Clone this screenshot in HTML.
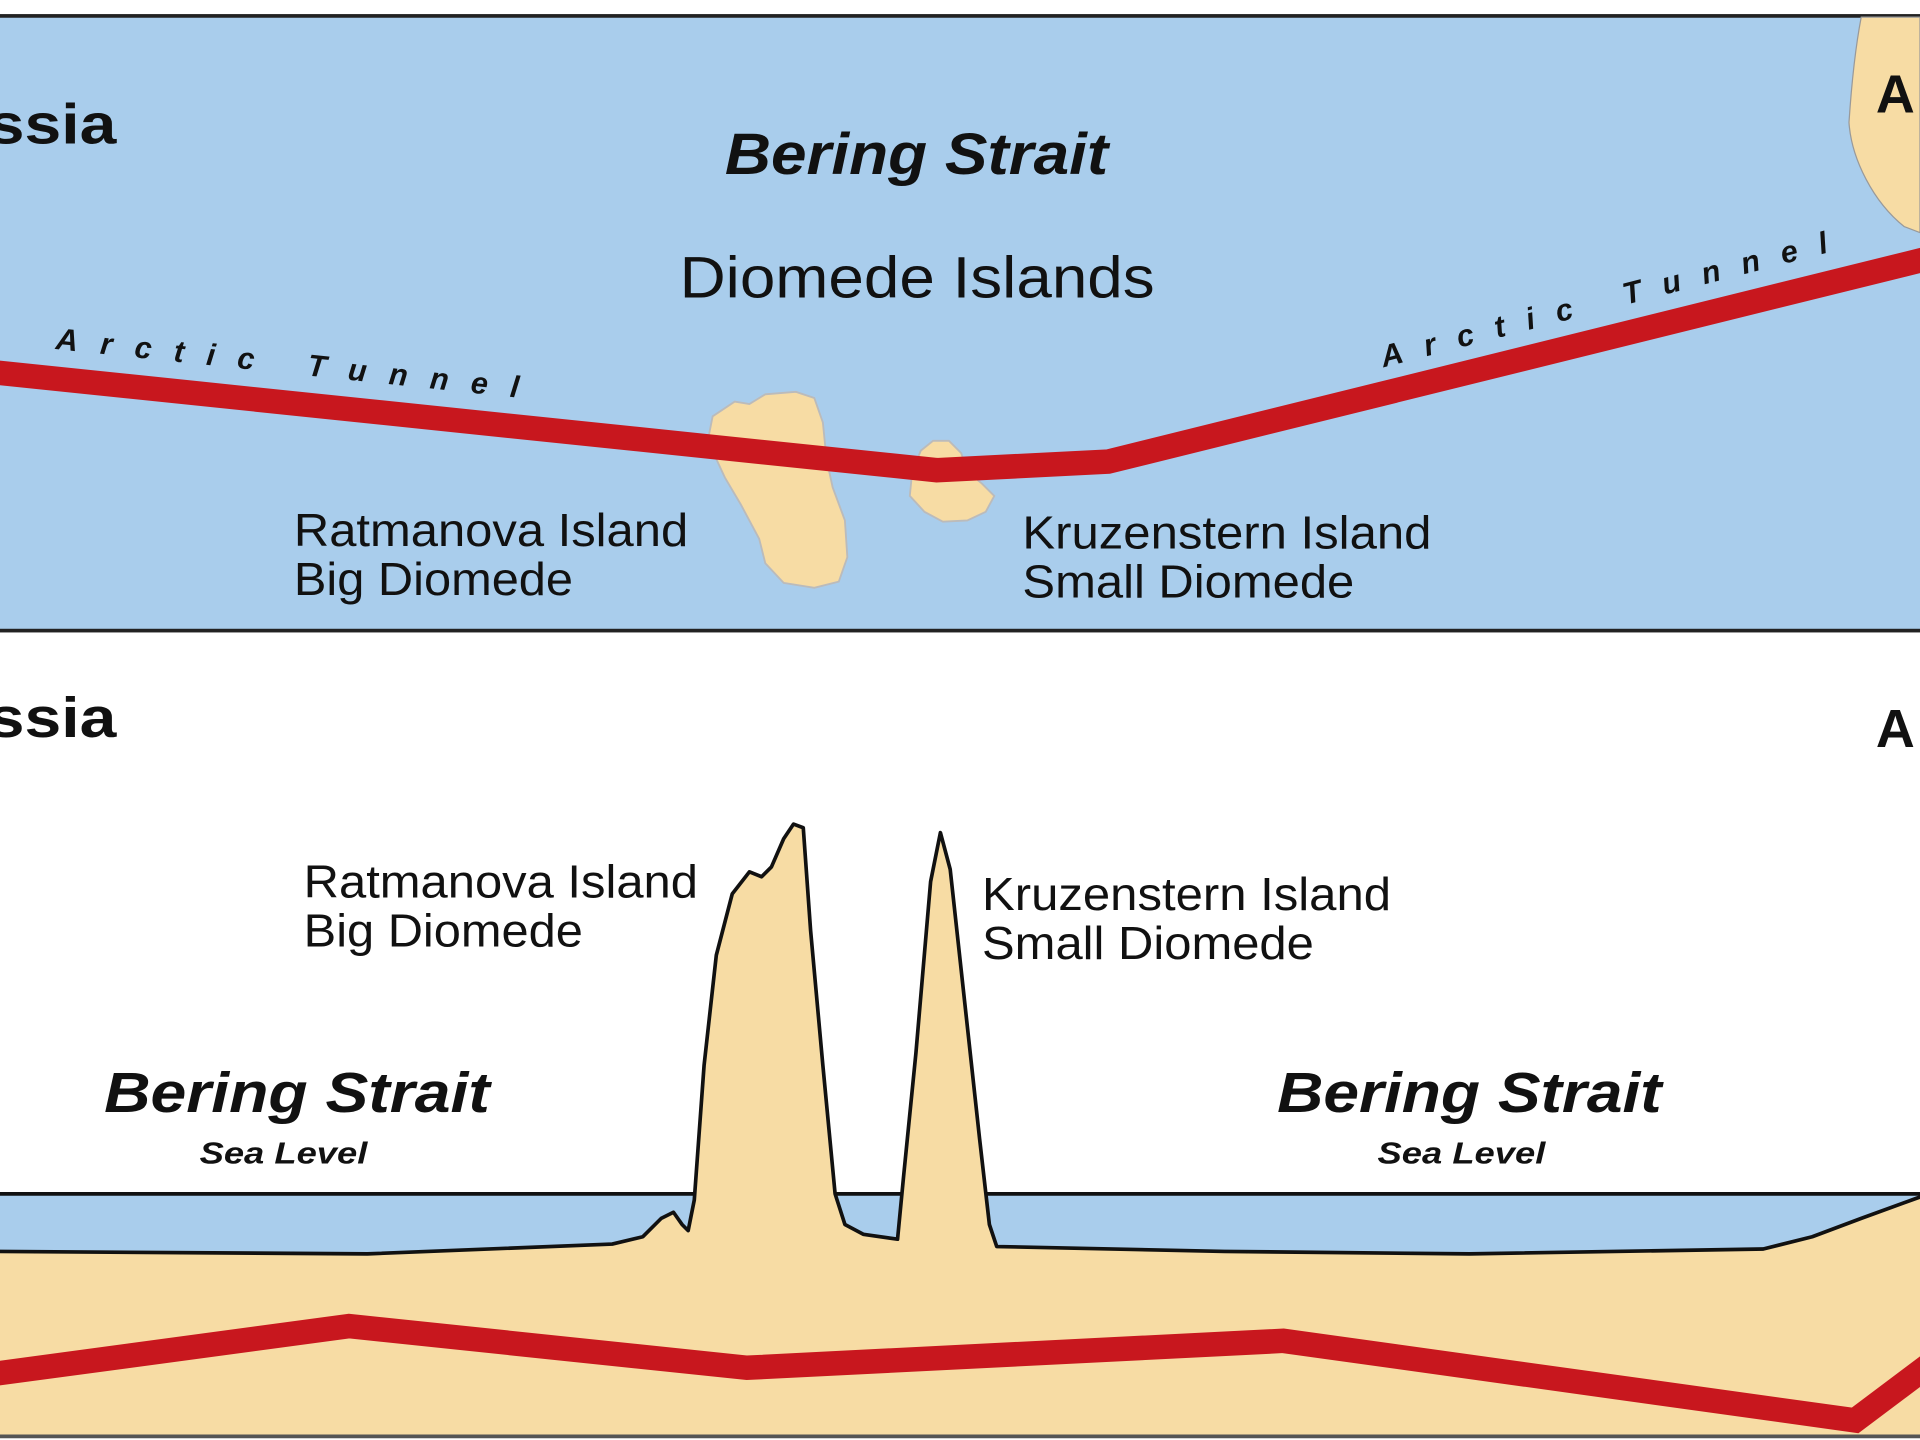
<!DOCTYPE html>
<html><head><meta charset="utf-8"><style>html,body{margin:0;padding:0;background:#fff}svg{display:block}</style></head>
<body>
<svg width="1920" height="1440" viewBox="0 0 1568 1176" preserveAspectRatio="none" xmlns="http://www.w3.org/2000/svg" font-family="Liberation Sans, sans-serif">
<rect x="0" y="0" width="1568" height="1176" fill="#fff"/>
<!-- top panel -->
<rect x="-5" y="13" width="1580" height="502" fill="#a9cdec" stroke="#222" stroke-width="3"/>
<path d="M1520,14 C1515,40 1512,70 1510,100 C1512,130 1530,165 1555,185 L1568,190 L1568,14 Z" fill="#f7dca4" stroke="#999" stroke-width="1"/>
<path d="M582,340 L600,328 L612,330 L625,322 L650,320 L665,325 L672,345 L675,375 L680,398 L690,425 L692,455 L685,475 L665,480 L640,476 L625,460 L620,440 L605,412 L592,390 L578,360 Z" fill="#f7dca4" stroke="#bbb" stroke-width="1.5"/>
<path d="M752,368 L762,360 L775,360 L785,370 L790,385 L802,395 L812,405 L805,418 L790,425 L770,426 L755,418 L743,405 L745,385 Z" fill="#f7dca4" stroke="#bbb" stroke-width="1.5"/>
<polyline points="-5,304 765,384 905,377 1575,211" fill="none" stroke="#c8171e" stroke-width="20" stroke-linejoin="miter"/>
<text x="-10" y="117" font-size="46" font-weight="bold" fill="#111" textLength="105" lengthAdjust="spacingAndGlyphs">ssia</text>
<text x="1532" y="92" font-size="44" font-weight="bold" fill="#111">A</text>
<text x="592" y="142" font-size="48" font-weight="bold" font-style="italic" fill="#111" textLength="313" lengthAdjust="spacingAndGlyphs">Bering Strait</text>
<text x="555" y="243" font-size="48" fill="#111" textLength="388" lengthAdjust="spacingAndGlyphs">Diomede Islands</text>
<text x="45" y="285" font-size="25" font-weight="bold" font-style="italic" fill="#111" transform="rotate(6 45 285)" textLength="380" lengthAdjust="spacing">Arctic Tunnel</text>
<text x="1130" y="300" font-size="25" font-weight="bold" font-style="italic" fill="#111" transform="rotate(-14.5 1130 300)" textLength="376" lengthAdjust="spacing">Arctic Tunnel</text>
<text x="240" y="446" font-size="38" fill="#111" textLength="322" lengthAdjust="spacingAndGlyphs">Ratmanova Island</text>
<text x="240" y="486" font-size="38" fill="#111" textLength="228" lengthAdjust="spacingAndGlyphs">Big Diomede</text>
<text x="835" y="448" font-size="38" fill="#111" textLength="334" lengthAdjust="spacingAndGlyphs">Kruzenstern Island</text>
<text x="835" y="488" font-size="38" fill="#111" textLength="271" lengthAdjust="spacingAndGlyphs">Small Diomede</text>
<!-- bottom panel -->
<text x="-10" y="602" font-size="46" font-weight="bold" fill="#111" textLength="105" lengthAdjust="spacingAndGlyphs">ssia</text>
<text x="1532" y="610" font-size="44" font-weight="bold" fill="#111">A</text>
<rect x="-5" y="975" width="1580" height="60" fill="#a9cdec"/>
<line x1="-5" y1="975" x2="1575" y2="975" stroke="#111" stroke-width="3"/>
<path d="M-5,1022 L300,1024 L500,1016 L525,1010 L540,995 L550,990 L557,1000 L562,1005 L567,980 L575,870 L585,780 L598,730 L612,712 L622,716 L630,708 L640,685 L648,673 L656,676 L662,760 L672,870 L682,975 L690,1000 L705,1008 L733,1012 L738,960 L748,860 L760,720 L768,680 L776,710 L788,820 L800,930 L808,1000 L814,1018 L1000,1022 L1200,1024 L1440,1020 L1480,1010 L1520,995 L1575,975 L1575,1173 L-5,1173 Z" fill="#f7dca4" stroke="#111" stroke-width="3" stroke-linejoin="round"/>
<polyline points="-5,1122 285,1083 610,1117 1048,1095 1515,1160 1575,1115" fill="none" stroke="#c8171e" stroke-width="20"/>
<line x1="-5" y1="1173" x2="1575" y2="1173" stroke="#555" stroke-width="3"/>
<text x="248" y="733" font-size="38" fill="#111" textLength="322" lengthAdjust="spacingAndGlyphs">Ratmanova Island</text>
<text x="248" y="773" font-size="38" fill="#111" textLength="228" lengthAdjust="spacingAndGlyphs">Big Diomede</text>
<text x="802" y="743" font-size="38" fill="#111" textLength="334" lengthAdjust="spacingAndGlyphs">Kruzenstern Island</text>
<text x="802" y="783" font-size="38" fill="#111" textLength="271" lengthAdjust="spacingAndGlyphs">Small Diomede</text>
<text x="85" y="908" font-size="46" font-weight="bold" font-style="italic" fill="#111" textLength="315" lengthAdjust="spacingAndGlyphs">Bering Strait</text>
<text x="163" y="950" font-size="25" font-weight="bold" font-style="italic" fill="#111" textLength="137" lengthAdjust="spacingAndGlyphs">Sea Level</text>
<text x="1043" y="908" font-size="46" font-weight="bold" font-style="italic" fill="#111" textLength="314" lengthAdjust="spacingAndGlyphs">Bering Strait</text>
<text x="1125" y="950" font-size="25" font-weight="bold" font-style="italic" fill="#111" textLength="137" lengthAdjust="spacingAndGlyphs">Sea Level</text>
</svg>
</body></html>
